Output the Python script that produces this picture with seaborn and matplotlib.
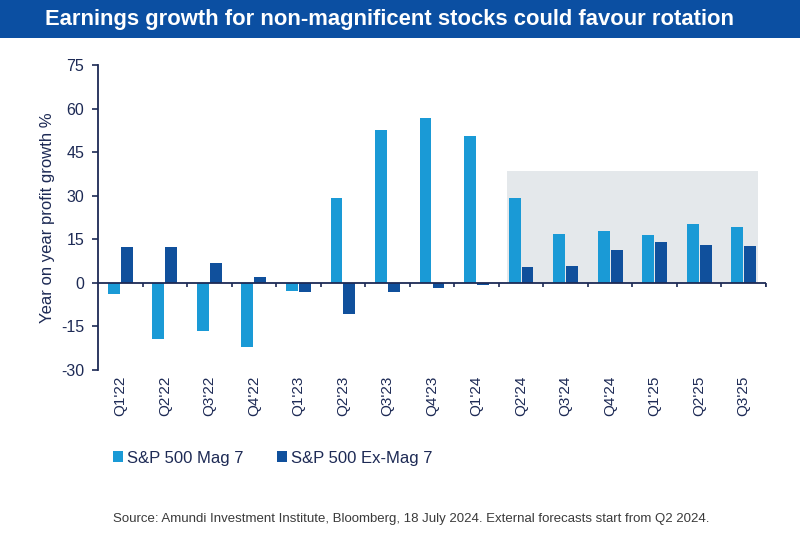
import numpy as np
import pandas as pd
import seaborn as sns
import matplotlib.pyplot as plt
from matplotlib.patches import Rectangle

# ------------------------------------------------------
# Data
# ------------------------------------------------------
quarters = ["Q1'22", "Q2'22", "Q3'22", "Q4'22", "Q1'23", "Q2'23", "Q3'23", "Q4'23",
            "Q1'24", "Q2'24", "Q3'24", "Q4'24", "Q1'25", "Q2'25", "Q3'25"]
mag7 = [-3.9, -19.3, -16.5, -22.0, -2.9, 29.2, 52.5, 56.7,
        50.6, 29.2, 16.7, 18.0, 16.5, 20.3, 19.2]
ex_mag7 = [12.5, 12.2, 6.9, 1.9, -3.0, -10.7, -3.2, -1.6,
           -0.9, 5.4, 5.8, 11.4, 14.1, 13.1, 12.8]
series_names = ["S&P 500 Mag 7", "S&P 500 Ex-Mag 7"]
forecast_start = "Q2'24"
forecast_top = 38.6

df = pd.DataFrame({
    "quarter": quarters * 2,
    "growth": mag7 + ex_mag7,
    "series": [series_names[0]] * len(quarters) + [series_names[1]] * len(quarters),
})

# ------------------------------------------------------
# Style
# ------------------------------------------------------
sns.set_theme(style="white")
plt.rcParams["font.family"] = ["Liberation Sans", "DejaVu Sans"]
plt.rcParams["axes.unicode_minus"] = False
navy = "#1d2a55"
light_blue = "#1a9ad6"
dark_blue = "#10509c"

fig = plt.figure(figsize=(8, 5.39), dpi=100)
ax = fig.add_axes([0.1225, 0.3135, 0.835, 0.566])

# forecast shading
i0 = quarters.index(forecast_start)
ax.add_patch(Rectangle((i0 - 0.32, 0), len(quarters) - i0 - 0.36, forecast_top,
                       facecolor="#e4e8eb", edgecolor="none", zorder=0))

sns.barplot(data=df, x="quarter", y="growth", hue="series", ax=ax,
            palette=[light_blue, dark_blue], width=0.58, gap=0.08,
            saturation=1, linewidth=0, legend=True, zorder=2)

ax.set_xlim(-0.5, len(quarters) - 0.5)
ax.set_ylim(-30, 75)
ax.set_yticks(np.arange(-30, 76, 15))
ax.tick_params(axis="y", colors=navy, labelsize=11.5, direction="out",
               length=4, width=1.2, left=True, pad=6)
ax.tick_params(axis="x", colors=navy, labelsize=11, length=0, rotation=90, pad=4)
ax.set_xlabel("")
ax.set_ylabel("Year on year profit growth %", color=navy, fontsize=12, labelpad=4)

for s in ["top", "right", "bottom"]:
    ax.spines[s].set_visible(False)
ax.spines["left"].set_color(navy)
ax.spines["left"].set_linewidth(1.3)

# zero line with category separator ticks
ax.axhline(0, color=navy, lw=1.3, zorder=3)
ax.vlines(np.arange(0.5, len(quarters), 1), -1.4, 0, color=navy, lw=1.2, zorder=3)
ax.vlines([len(quarters) - 0.5], -1.4, 0, color=navy, lw=1.2, zorder=3, clip_on=False)

# legend
handles, labels = ax.get_legend_handles_labels()
ax.legend(handles, labels, loc="upper left", bbox_to_anchor=(0.0, -0.215),
          ncol=2, frameon=False, fontsize=12, handlelength=0.6, handleheight=0.6,
          handletextpad=0.25, columnspacing=2.0, labelcolor=navy)

# title banner
fig.patches.append(Rectangle((0, 1 - 38 / 539), 1, 38 / 539, transform=fig.transFigure,
                             facecolor="#0b4fa2", edgecolor="none", zorder=0))
fig.text(0.487, 1 - 19 / 539, "Earnings growth for non-magnificent stocks could favour rotation",
         color="white", fontsize=15.8, fontweight="bold", ha="center", va="center")

fig.text(113 / 800, 1 - 519 / 539,
         "Source: Amundi Investment Institute, Bloomberg, 18 July 2024. External forecasts start from Q2 2024.",
         color="#3a3a3a", fontsize=9.5, ha="left", va="center")

fig.savefig("out.png", dpi=100)
